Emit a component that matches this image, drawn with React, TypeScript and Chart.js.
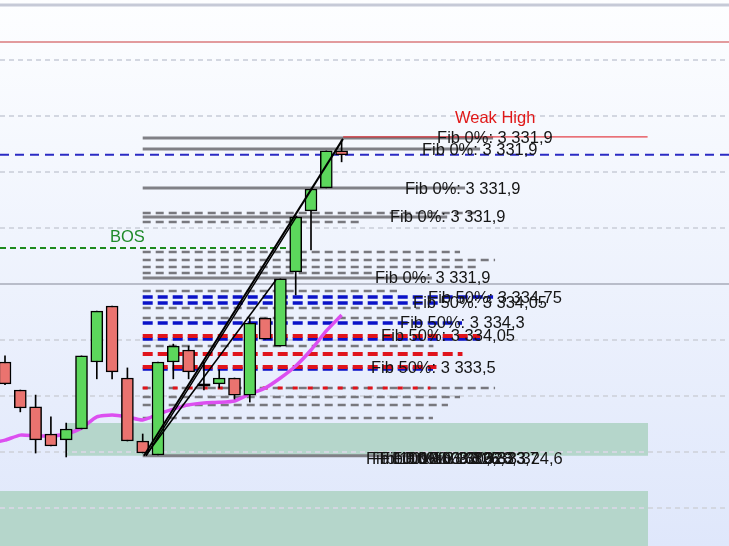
import React, { useEffect, useRef } from "react";
import { Chart, registerables } from "chart.js";

Chart.register(...registerables);

// ---- scale ranges (candle index / price) ----
const X_MIN = -0.327;
const X_MAX = 47.32;
const Y_MIN = 3322.64;
const Y_MAX = 3342.14;

// ---- candles ----
const opens = [3329.21, 3328.21, 3327.61, 3326.64, 3326.43, 3326.82, 3329.21, 3331.21, 3328.64, 3326.39, 3325.89, 3329.21, 3329.64, 3328.39, 3328.43, 3328.64, 3328.03, 3330.78, 3329.78, 3332.43, 3334.61, 3335.43, 3336.75];
const highs = [3329.43, 3328.21, 3328.03, 3327.25, 3327.03, 3329.43, 3331.03, 3331.21, 3329.0, 3326.64, 3329.21, 3329.85, 3329.78, 3329.21, 3328.93, 3328.64, 3330.78, 3330.78, 3332.18, 3334.39, 3335.39, 3336.75, 3337.14];
const lows = [3328.4, 3327.43, 3325.96, 3326.21, 3325.82, 3326.82, 3328.61, 3328.61, 3326.39, 3325.96, 3325.89, 3328.61, 3328.61, 3328.21, 3328.28, 3327.89, 3327.78, 3330.03, 3329.78, 3331.61, 3333.21, 3335.43, 3336.36];
const closes = [3328.43, 3327.57, 3326.43, 3326.21, 3326.82, 3329.43, 3331.03, 3328.86, 3326.39, 3325.96, 3329.21, 3329.78, 3328.86, 3328.39, 3328.64, 3328.03, 3330.6, 3330.03, 3332.18, 3334.39, 3335.39, 3336.75, 3336.61];

// ---- moving average (index -1 .. 22) ----
const maStart = -1;
const maValues = [3326.3, 3326.42, 3326.6, 3326.57, 3326.57, 3326.64, 3326.85, 3327.25, 3327.32, 3327.25, 3327.14, 3327.35, 3327.53, 3327.68, 3327.75, 3327.77, 3327.82, 3328.07, 3328.28, 3328.64, 3329.07, 3329.64, 3330.32, 3330.89];

// ---- grid ----
const gridPrices = [3340, 3338, 3336, 3334, 3332, 3330, 3328, 3326, 3324];

// ---- fib levels (start index, levels, end index) ----
const fibStart = 9;
const fibSolidLevels = [3337.21, 3336.82, 3335.43, 3334.39, 3332.21, 3325.86];
const fibSolidEnds = [31.9, 31.05, 30.07, 28.9, 27.9, 27.3];
const fibDashLevels = [3334.53, 3334.21, 3333.14, 3332.85, 3332.6, 3332.39, 3331.75, 3331.14, 3330.78, 3329.78, 3328.28, 3327.96, 3327.68, 3327.21];
const fibDashEnds = [31.05, 23.33, 29.74, 32.03, 30.92, 23.99, 25.62, 27.12, 25.8, 28.0, 32.03, 29.74, 28.95, 27.97];
const blueDashLevels = [3331.53, 3331.32, 3330.6, 3330.03, 3328.96];
const blueDashEnds = [31.9, 28.4, 29.87, 31.05, 27.97];
const redDashLevels = [3330.14, 3329.5, 3329.03];
const redDashEnds = [31.05, 29.9, 28.2];
const redSparseLevels = [3328.28];
const redSparseEnds = [27.8];

// ---- other levels ----
const topLinePrice = 3341.96;
const redTopPrice = 3340.64;
const blueFullPrice = 3336.61;
const priceLinePrice = 3332.0;
const bosPrice = 3333.28;
const bosRange = [X_MIN, 18.8];
const weakHighPrice = 3337.25;
const weakHighRange = [22.1, 42.0];

// ---- zones [x0, x1, yLow, yHigh] ----
const zoneUpper = [4.05, 42.03, 3325.86, 3327.03];
const zoneLower = [X_MIN, 42.03, Y_MIN, 3324.6];

// ---- trend lines [x0, y0, x1, y1] ----
const trendLines = [
  [9.08, 3325.86, 22.09, 3337.18],
  [9.22, 3325.86, 19.08, 3334.43],
  [9.22, 3325.89, 17.71, 3332.14],
];

// ---- text labels ----
const labelTexts = [
  "Fib 0%: 3 331,9",
  "Fib 0%: 3 331,9",
  "Fib 0%: 3 331,9",
  "Fib 0%: 3 331,9",
  "Fib 0%: 3 331,9",
  "Fib 50%: 3 334,75",
  "Fib 50%: 3 334,05",
  "Fib 50%: 3 334,3",
  "Fib 50%: 3 334,05",
  "Fib 50%: 3 333,5",
  "Fib 100%: 3 320,6",
  "Fib 100%: 3 326,8",
  "Fib 100%: 3 325,3",
  "Fib 100%: 3 328,3",
  "Fib 100%: 3 323,7",
  "Fib 100%: 3 324,6",
];
const labelX = [28.24, 27.25, 26.14, 25.16, 24.18, 27.65, 26.67, 25.82, 24.58, 23.92, 23.59, 23.99, 24.51, 25.29, 26.14, 27.7];
const labelY = [3337.2, 3336.77, 3335.38, 3334.38, 3332.2, 3331.48, 3331.31, 3330.59, 3330.13, 3328.98, 3325.74, 3325.74, 3325.74, 3325.74, 3325.74, 3325.74];
const weakHighLabel = { text: "Weak High", x: 29.41, y: 3337.92 };
const bosLabel = { text: "BOS", x: 6.86, y: 3333.67 };

const GREEN = "#5cd75c";
const RED = "#ea736f";

function seg(x0: number, x1: number, y: number, color: string, width: number, dash: number[], order: number) {
  return {
    type: "line" as const,
    data: [
      { x: x0, y },
      { x: x1, y },
    ],
    borderColor: color,
    borderWidth: width,
    borderDash: dash,
    pointRadius: 0,
    fill: false,
    tension: 0,
    order,
  };
}

function zone(z: number[], color: string, order: number, toStart: boolean) {
  return {
    type: "line" as const,
    data: [
      { x: z[0], y: z[3] },
      { x: z[1], y: z[3] },
    ],
    borderWidth: 0,
    borderColor: "rgba(0,0,0,0)",
    backgroundColor: color,
    pointRadius: 0,
    fill: toStart ? "start" : { value: z[2] },
    order,
  };
}

const bgPlugin = {
  id: "bg",
  beforeDraw(chart: any) {
    const { ctx, width, height } = chart;
    const g = ctx.createLinearGradient(0, 0, 0, height);
    g.addColorStop(0, "#fdfeff");
    g.addColorStop(1, "#dfe7fb");
    ctx.save();
    ctx.fillStyle = g;
    ctx.fillRect(0, 0, width, height);
    ctx.restore();
  },
};

const textPlugin = {
  id: "texts",
  afterDatasetsDraw(chart: any) {
    const { ctx } = chart;
    const xs = chart.scales.x;
    const ys = chart.scales.y;
    ctx.save();
    ctx.font = '16.5px "Liberation Sans", Arial, sans-serif';
    ctx.textBaseline = "middle";
    ctx.textAlign = "left";
    ctx.fillStyle = "#151515";
    labelTexts.forEach((t, i) => {
      ctx.fillText(t, xs.getPixelForValue(labelX[i]), ys.getPixelForValue(labelY[i]));
    });
    ctx.fillStyle = "#e01818";
    ctx.fillText(weakHighLabel.text, xs.getPixelForValue(weakHighLabel.x), ys.getPixelForValue(weakHighLabel.y));
    ctx.fillStyle = "#1f8a2a";
    ctx.fillText(bosLabel.text, xs.getPixelForValue(bosLabel.x), ys.getPixelForValue(bosLabel.y));
    ctx.restore();
  },
};

export default function App() {
  const ref = useRef<HTMLCanvasElement | null>(null);

  useEffect(() => {
    if (!ref.current) return;
    const datasets: any[] = [];

    // zones
    datasets.push(zone(zoneUpper, "#b5d6cb", 100, false));
    datasets.push(zone(zoneLower, "#b5d6cb", 100, true));

    // grid
    gridPrices.forEach((p) => datasets.push(seg(X_MIN, X_MAX, p, "#d3d7e1", 2, [5, 4], 95)));

    // full-width levels
    datasets.push(seg(X_MIN, X_MAX, topLinePrice, "#c6cad7", 3, [], 90));
    datasets.push(seg(X_MIN, X_MAX, redTopPrice, "#e29b9d", 2, [], 90));
    datasets.push(seg(X_MIN, X_MAX, priceLinePrice, "#b9bdca", 2, [], 90));

    // fib dashed gray
    fibDashLevels.forEach((p, i) => datasets.push(seg(fibStart, fibDashEnds[i], p, "#78787e", 2.5, [8, 5], 80)));
    // fib solid gray
    fibSolidLevels.forEach((p, i) => datasets.push(seg(fibStart, fibSolidEnds[i], p, "#808086", 3, [], 79)));
    // blue dashed
    blueDashLevels.forEach((p, i) => datasets.push(seg(fibStart, blueDashEnds[i], p, "#0a12c8", 3.5, [10, 5], 78)));
    // red dashed
    redDashLevels.forEach((p, i) => datasets.push(seg(fibStart, redDashEnds[i], p, "#e0141c", 4, [10, 5], 77)));
    redSparseLevels.forEach((p, i) => datasets.push(seg(fibStart, redSparseEnds[i], p, "#e0141c", 3, [5, 10], 76)));

    datasets.push(seg(X_MIN, X_MAX, blueFullPrice, "#2b2bc4", 2, [9, 6], 75));
    datasets.push(seg(bosRange[0], bosRange[1], bosPrice, "#1d8a1d", 2, [6, 4], 75));
    datasets.push(seg(weakHighRange[0], weakHighRange[1], weakHighPrice, "#e0141c", 1, [], 74));

    // moving average
    datasets.push({
      type: "line",
      data: maValues.map((v, i) => ({ x: maStart + i, y: v })),
      borderColor: "#dc4ff0",
      borderWidth: 3.5,
      pointRadius: 0,
      fill: false,
      tension: 0.2,
      order: 40,
    });

    // wicks
    datasets.push({
      type: "bar",
      data: highs.map((h, i) => ({ x: i, y: [lows[i], h] })),
      backgroundColor: "#000000",
      borderWidth: 0,
      barThickness: 1,
      grouped: false,
      order: 31,
    });
    // bodies
    datasets.push({
      type: "bar",
      data: opens.map((o, i) => {
        const c = closes[i];
        return { x: i, y: o === c ? [o - 0.035, o + 0.035] : [o, c] };
      }),
      backgroundColor: opens.map((o, i) => (closes[i] > o ? GREEN : closes[i] < o ? RED : "#000000")),
      borderColor: "#000000",
      borderWidth: opens.map((o, i) => (closes[i] === o ? 0 : 1.5)),
      borderSkipped: false,
      barThickness: opens.map((o, i) => (closes[i] === o ? 14 : 12)),
      grouped: false,
      order: 30,
    });

    // trend lines
    trendLines.forEach((t, i) =>
      datasets.push({
        type: "line",
        data: [
          { x: t[0], y: t[1] },
          { x: t[2], y: t[3] },
        ],
        borderColor: "#000000",
        borderWidth: i === 0 ? 2 : 1.5,
        pointRadius: 0,
        fill: false,
        order: 10,
      })
    );

    const chart = new Chart(ref.current, {
      type: "bar",
      data: { datasets },
      options: {
        animation: false,
        responsive: true,
        maintainAspectRatio: false,
        layout: { padding: 0 },
        plugins: { legend: { display: false }, tooltip: { enabled: false } },
        events: [],
        scales: {
          x: { type: "linear", min: X_MIN, max: X_MAX, display: false, offset: false },
          y: { type: "linear", min: Y_MIN, max: Y_MAX, display: false },
        },
      },
      plugins: [bgPlugin, textPlugin],
    } as any);
    return () => chart.destroy();
  }, []);

  return (
    <div style={{ position: "fixed", left: 0, top: 0, width: 729, height: 546 }}>
      <canvas ref={ref} />
    </div>
  );
}
